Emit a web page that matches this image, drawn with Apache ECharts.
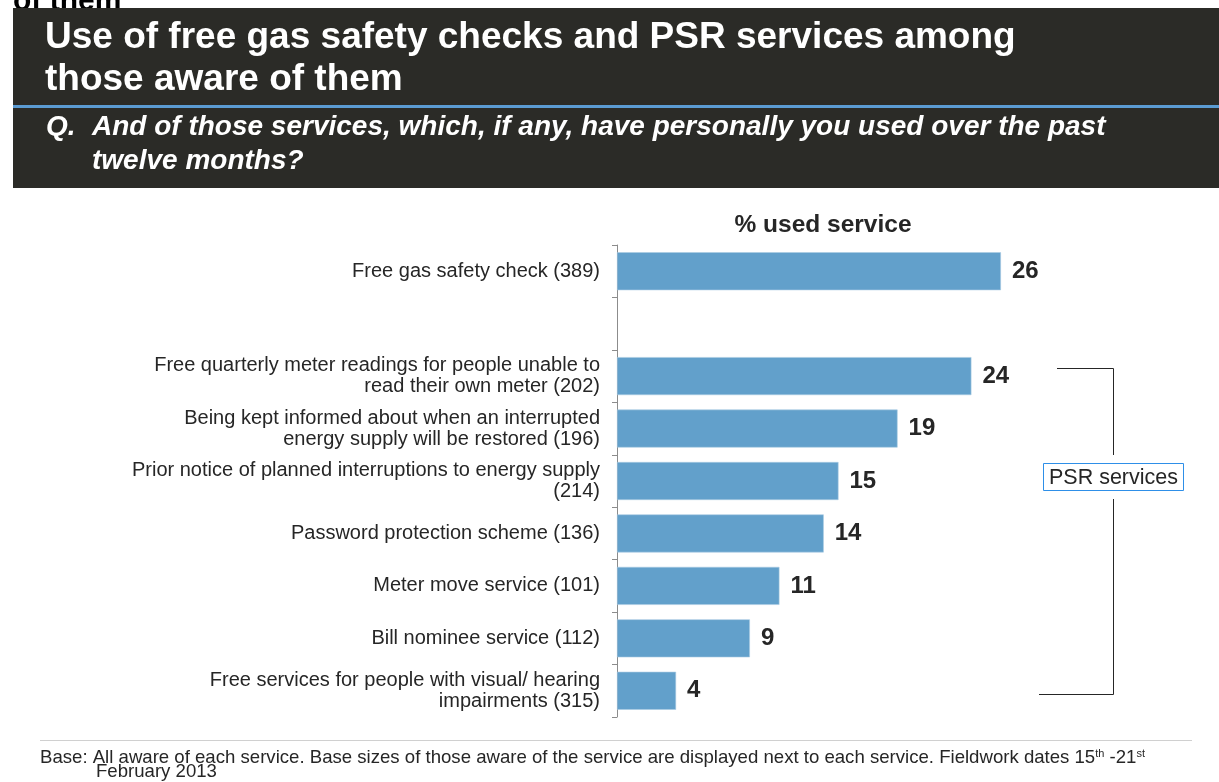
<!DOCTYPE html>
<html>
<head>
<meta charset="utf-8">
<title>Use of free gas safety checks and PSR services</title>
<script src="https://cdn.jsdelivr.net/npm/echarts@6/dist/echarts.min.js"></script>
<style>
  html, body { margin: 0; padding: 0; background: #ffffff; }
  #chart { width: 1219px; height: 782px; }
</style>
</head>
<body>
<div id="chart"></div>
<script>
// Services, top to bottom (the blank entry separates the gas check from the PSR group)
const services = [
  'Free gas safety check (389)',
  '',
  'Free quarterly meter readings for people unable to\nread their own meter (202)',
  'Being kept informed about when an interrupted\nenergy supply will be restored (196)',
  'Prior notice of planned interruptions to energy supply\n(214)',
  'Password protection scheme (136)',
  'Meter move service (101)',
  'Bill nominee service (112)',
  'Free services for people with visual/ hearing\nimpairments (315)'
];
// % of those aware who used the service
const usedPct = [26, '-', 24, 19, 15, 14, 11, 9, 4];

const titleLines = [
  'Use of free gas safety checks and PSR services among',
  'those aware of them'
];
const questionLines = [
  'And of those services, which, if any, have personally you used over the past',
  'twelve months?'
];

const FONT = "Arial, 'Liberation Sans', Helvetica, sans-serif";
const chart = echarts.init(document.getElementById('chart'), null, { renderer: 'canvas' });

const option = {
  backgroundColor: '#ffffff',
  animation: false,
  textStyle: { fontFamily: FONT },
  title: {
    text: '% used service',
    left: 818,
    top: 208,
    textAlign: 'center',
    textStyle: { fontFamily: FONT, fontSize: 24.5, fontWeight: 'bold', color: '#262626' }
  },
  grid: { left: 617, top: 245, width: 443, height: 472, containLabel: false },
  xAxis: {
    type: 'value',
    min: 0,
    max: 30,
    show: false
  },
  yAxis: {
    type: 'category',
    inverse: true,
    data: services,
    axisLine: { show: true, lineStyle: { color: '#8c8c8c', width: 1 } },
    axisTick: { show: true, length: 5, lineStyle: { color: '#8c8c8c', width: 1 } },
    axisLabel: {
      margin: 17,
      fontFamily: FONT,
      fontSize: 20,
      lineHeight: 21,
      color: '#262626',
      align: 'right'
    },
    splitLine: { show: false }
  },
  series: [{
    type: 'bar',
    data: usedPct,
    barWidth: 38,
    itemStyle: { color: '#62a0cb', borderColor: '#a9cbe3', borderWidth: 0.6 },
    label: {
      show: true,
      position: 'right',
      distance: 11,
      fontFamily: FONT,
      fontSize: 24,
      fontWeight: 'bold',
      color: '#262626'
    }
  }],
  graphic: [
    // clipped heading from the previous block
    { type: 'text', x: 13, y: -13, z: 5,
      style: { text: 'of them', font: 'bold 30px ' + FONT, fill: '#000000', verticalAlign: 'alphabetic' } },
    // dark header band
    { type: 'rect', shape: { x: 13, y: 8, width: 1206, height: 180 }, z: 10,
      style: { fill: '#2b2b27' } },
    { type: 'rect', shape: { x: 13, y: 105, width: 1206, height: 3 }, z: 11,
      style: { fill: '#5b9bd2' } },
    { type: 'text', x: 45, y: 38, z: 12,
      style: { text: titleLines[0], font: 'bold 37px ' + FONT, fill: '#ffffff', verticalAlign: 'middle' } },
    { type: 'text', x: 45, y: 80, z: 12,
      style: { text: titleLines[1], font: 'bold 37px ' + FONT, fill: '#ffffff', verticalAlign: 'middle' } },
    { type: 'text', x: 46, y: 127, z: 12,
      style: { text: 'Q.', font: 'italic bold 28px ' + FONT, fill: '#ffffff', verticalAlign: 'middle' } },
    { type: 'text', x: 92, y: 127, z: 12,
      style: { text: questionLines[0], font: 'italic bold 28px ' + FONT, fill: '#ffffff', verticalAlign: 'middle' } },
    { type: 'text', x: 92, y: 161, z: 12,
      style: { text: questionLines[1], font: 'italic bold 28px ' + FONT, fill: '#ffffff', verticalAlign: 'middle' } },

    // PSR services bracket
    { type: 'polyline', z: 5,
      shape: { points: [[1057, 368.5], [1113.5, 368.5], [1113.5, 455]] },
      style: { stroke: '#262626', lineWidth: 1, fill: null } },
    { type: 'polyline', z: 5,
      shape: { points: [[1113.5, 499], [1113.5, 694.5], [1039, 694.5]] },
      style: { stroke: '#262626', lineWidth: 1, fill: null } },
    { type: 'rect', z: 5,
      shape: { x: 1043.5, y: 463.5, width: 140, height: 27 },
      style: { fill: '#ffffff', stroke: '#2e8fe8', lineWidth: 1 } },
    { type: 'text', x: 1113.5, y: 478, z: 6,
      style: { text: 'PSR services', font: '21.5px ' + FONT, fill: '#262626', align: 'center', verticalAlign: 'middle' } },

    // footer
    { type: 'rect', shape: { x: 40, y: 740, width: 1152, height: 1 }, z: 5,
      style: { fill: '#d0d0d0' } },
    { type: 'text', x: 40, y: 758, z: 5,
      style: {
        text: '{t|Base: All aware of each service. Base sizes of those aware of the service are displayed next to each service. Fieldwork dates 15}{s|th}{t| -21}{s|st}',
        verticalAlign: 'middle',
        rich: {
          t: { fontFamily: FONT, fontSize: 18.6, fill: '#262626' },
          s: { fontFamily: FONT, fontSize: 11, fill: '#262626', verticalAlign: 'top', padding: [0, 0, 9, 0] }
        }
      } },
    { type: 'text', x: 96, y: 772, z: 5,
      style: { text: 'February 2013', fontFamily: FONT, fontSize: 18.6, fill: '#262626', verticalAlign: 'middle' } }
  ]
};

chart.setOption(option);
</script>
</body>
</html>
